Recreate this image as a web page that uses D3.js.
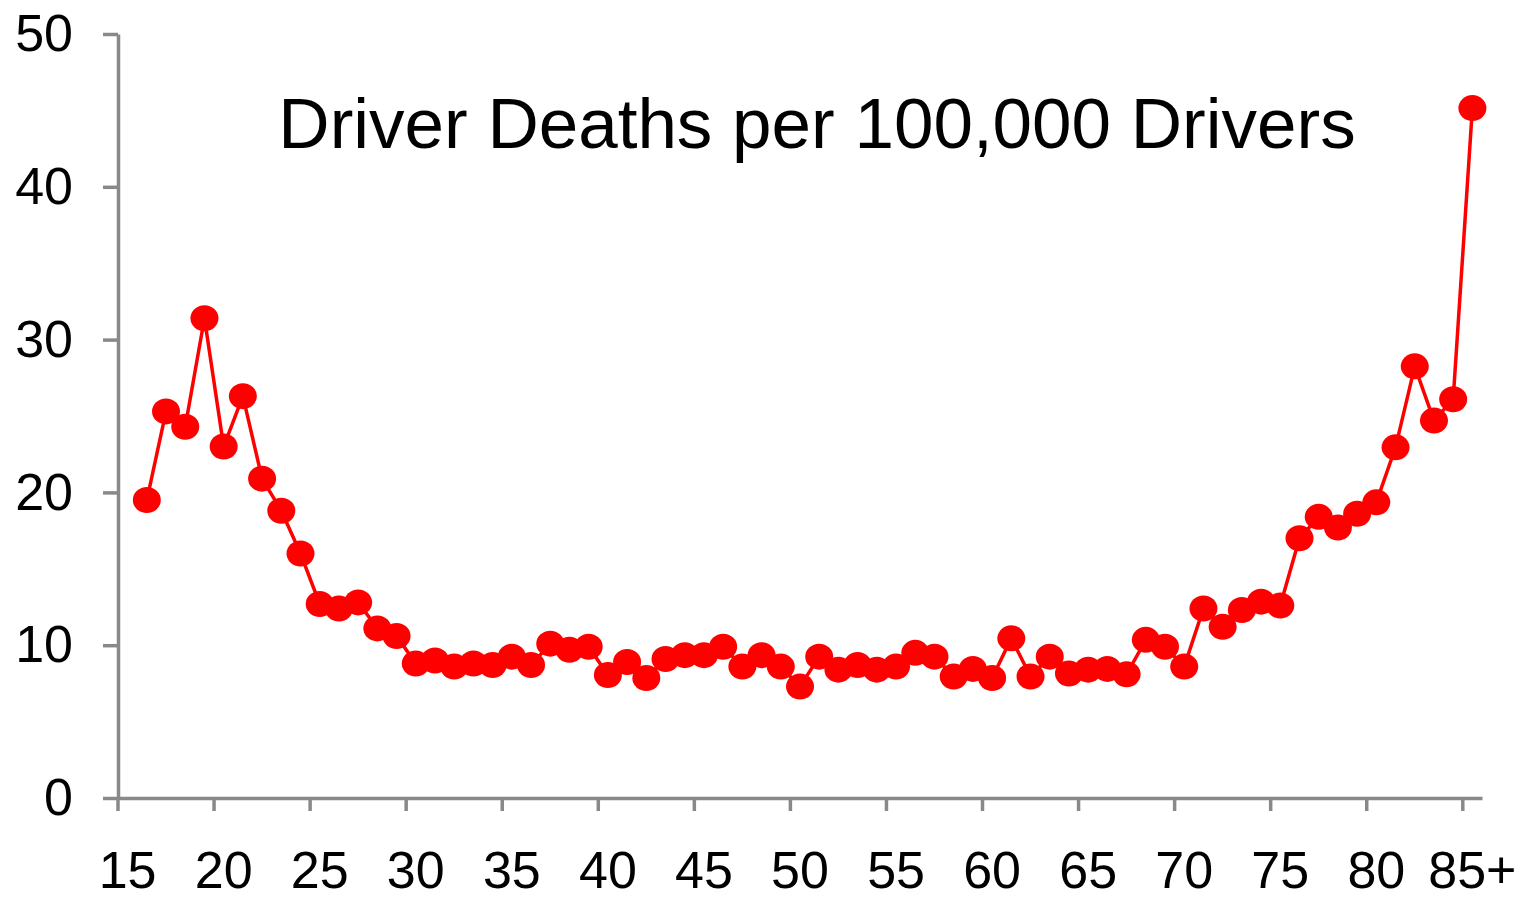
<!DOCTYPE html>
<html>
<head>
<meta charset="utf-8">
<script src="https://cdn.jsdelivr.net/npm/d3@7"></script>
<style>
    body { margin: 0; background: #fff; }
    svg { display: block; font-family: "Liberation Sans", Arial, sans-serif; }
</style>
</head>
<body>
<svg id="chart"></svg>
<script>
"use strict";

const width = 1524;
const height = 899;

// age categories on the x axis (15 has no value)
const ages = [
    "15", "16", "17", "18", "19", "20", "21", "22", "23", "24",
    "25", "26", "27", "28", "29", "30", "31", "32", "33", "34",
    "35", "36", "37", "38", "39", "40", "41", "42", "43", "44",
    "45", "46", "47", "48", "49", "50", "51", "52", "53", "54",
    "55", "56", "57", "58", "59", "60", "61", "62", "63", "64",
    "65", "66", "67", "68", "69", "70", "71", "72", "73", "74",
    "75", "76", "77", "78", "79", "80", "81", "82", "83", "84",
    "85+"
];

// driver deaths per 100,000 drivers, one per age above
const deaths = [
    null, 19.5, 25.3, 24.3, 31.4, 23.0, 26.3, 20.9, 18.8, 16.0,
    12.7, 12.4, 12.8, 11.1, 10.6, 8.8, 9.0, 8.6, 8.8, 8.7,
    9.25, 8.7, 10.1, 9.7, 9.9, 8.05, 8.9, 7.85, 9.1, 9.35,
    9.35, 9.9, 8.6, 9.35, 8.6, 7.3, 9.25, 8.4, 8.7, 8.4,
    8.6, 9.5, 9.25, 7.95, 8.45, 7.85, 10.45, 7.95, 9.25, 8.15,
    8.4, 8.45, 8.1, 10.35, 9.9, 8.6, 12.4, 11.2, 12.3, 12.85,
    12.6, 17.0, 18.4, 17.7, 18.6, 19.35, 22.95, 28.25, 24.7, 26.1,
    45.15
];

const xTickLabels = ["15", "20", "25", "30", "35", "40", "45", "50", "55", "60", "65", "70", "75", "80", "85+"];
const yTicks = [0, 10, 20, 30, 40, 50];

const title = "Driver Deaths per 100,000 Drivers";

const axis_color = "#898989";
const line_color = "#ff0000";

function genChart() {
    const data = ages.map((a, i) => ({ age: a, value: deaths[i] }));

    const x_scale = d3.scaleBand()
        .domain(ages)
        .range([118, 1482])
        .padding(0);

    const y_scale = d3.scaleLinear()
        .domain([0, 50])
        .range([798, 34]);

    const svg = d3.select("#chart")
        .attr("width", width)
        .attr("height", height);

    // y axis
    const axis_y = svg.append("g")
        .attr("transform", "translate(118, 0)")
        .call(
            d3.axisLeft(y_scale)
                .tickValues(yTicks)
                .tickSize(15)
                .tickSizeOuter(0)
                .tickPadding(30)
        );

    // x axis, tick marks sit between categories
    const half = x_scale.bandwidth() / 2;
    const axis_x = svg.append("g")
        .attr("transform", "translate(0, 798)")
        .call(
            d3.axisBottom(x_scale)
                .tickValues(xTickLabels)
                .tickSize(13)
                .tickSizeOuter(0)
        );
    axis_x.selectAll(".tick line")
        .attr("x1", -half)
        .attr("x2", -half);
    axis_x.selectAll(".tick text")
        .attr("y", 0)
        .attr("dy", "90px");

    [axis_x, axis_y].forEach(g => {
        g.select(".domain")
            .attr("stroke", axis_color)
            .attr("stroke-width", 3.5);
        g.selectAll(".tick line")
            .attr("stroke", axis_color)
            .attr("stroke-width", 3.5);
        g.selectAll(".tick text")
            .attr("fill", "#000")
            .style("font-size", "52px")
            .style("font-family", "'Liberation Sans', Arial, sans-serif");
    });

    // line
    const line = d3.line()
        .defined(d => d.value !== null)
        .x(d => x_scale(d.age) + half)
        .y(d => y_scale(d.value));

    svg.append("path")
        .datum(data)
        .attr("fill", "none")
        .attr("stroke", line_color)
        .attr("stroke-width", 3.5)
        .attr("d", line);

    // markers
    svg.append("g")
        .selectAll("ellipse")
        .data(data.filter(d => d.value !== null))
        .enter()
        .append("ellipse")
        .attr("cx", d => x_scale(d.age) + half)
        .attr("cy", d => y_scale(d.value))
        .attr("rx", 14)
        .attr("ry", 13)
        .attr("fill", line_color);

    // title inside the plot
    svg.append("text")
        .attr("x", 817)
        .attr("y", 148)
        .attr("text-anchor", "middle")
        .attr("fill", "#000")
        .style("font-size", "71px")
        .text(title);
}

genChart();
</script>
</body>
</html>
